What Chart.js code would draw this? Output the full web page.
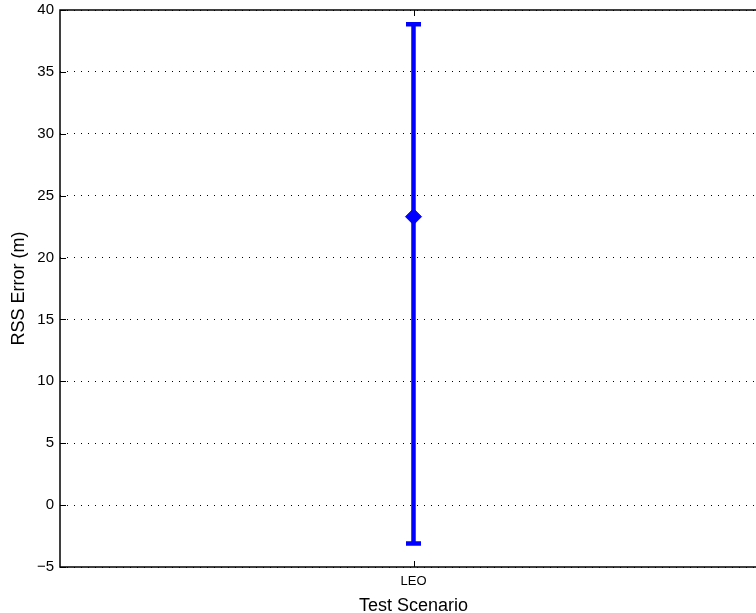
<!DOCTYPE html>
<html>
<head>
<meta charset="utf-8">
<script src="https://cdn.jsdelivr.net/npm/chart.js@4"></script>
<style>
  html, body { margin: 0; padding: 0; background: #fff; overflow: hidden; }
  .chart { position: relative; width: 776px; height: 613px; }
</style>
</head>
<body>
<div class="chart"><canvas id="myChart"></canvas></div>
<script>
// data
const categories = ["LEO"];
const meanValues = [23.3];
const lowerValues = [-3.1];
const upperValues = [38.85];
const yTickValues = [-5, 0, 5, 10, 15, 20, 25, 30, 35, 40];

const blue = "#0000ff";
const fontFamily = "'Liberation Sans', Arial, Helvetica, sans-serif";

// error bars + axes box with inward ticks (matlab look)
const errorBarPlugin = {
  id: "errorBars",
  afterDatasetsDraw(chart) {
    const ctx = chart.ctx;
    const x = chart.scales.x;
    const y = chart.scales.y;
    ctx.save();
    ctx.strokeStyle = blue;
    ctx.lineWidth = 4.5;
    categories.forEach((c, i) => {
      const px = x.getPixelForValue(i + 1);
      const top = y.getPixelForValue(upperValues[i]);
      const bot = y.getPixelForValue(lowerValues[i]);
      ctx.beginPath();
      ctx.moveTo(px, top);
      ctx.lineTo(px, bot);
      ctx.moveTo(px - 7.5, top);
      ctx.lineTo(px + 7.5, top);
      ctx.moveTo(px - 7.5, bot);
      ctx.lineTo(px + 7.5, bot);
      ctx.stroke();
    });
    ctx.restore();
  },
  afterDraw(chart) {
    const ctx = chart.ctx;
    const a = chart.chartArea;
    const x = chart.scales.x;
    const y = chart.scales.y;
    ctx.save();
    ctx.strokeStyle = "#000";
    ctx.lineWidth = 1;
    ctx.beginPath();
    // ticks
    yTickValues.forEach(v => {
      const py = Math.round(y.getPixelForValue(v)) + 0.5;
      ctx.moveTo(a.left, py);
      ctx.lineTo(a.left + 6, py);
      ctx.moveTo(a.right, py);
      ctx.lineTo(a.right - 6, py);
    });
    categories.forEach((c, i) => {
      const px = Math.round(x.getPixelForValue(i + 1)) + 0.5;
      ctx.moveTo(px, a.bottom);
      ctx.lineTo(px, a.bottom - 6);
      ctx.moveTo(px, a.top);
      ctx.lineTo(px, a.top + 6);
    });
    ctx.stroke();
    ctx.restore();
    // box
    ctx.save();
    ctx.strokeStyle = "#000";
    ctx.lineWidth = 1.5;
    ctx.strokeRect(a.left, a.top, a.right - a.left, a.bottom - a.top);
    ctx.restore();
  }
};

const ctx = document.getElementById("myChart").getContext("2d");

new Chart(ctx, {
  type: "scatter",
  data: {
    datasets: [{
      label: "RSS Error",
      data: meanValues.map((v, i) => ({ x: i + 1, y: v })),
      pointStyle: "rectRot",
      pointRadius: 8,
      pointHoverRadius: 8,
      backgroundColor: blue,
      borderColor: blue,
      borderWidth: 1
    }]
  },
  options: {
    responsive: true,
    maintainAspectRatio: false,
    animation: false,
    layout: {
      padding: { top: 10, right: 4, left: 0, bottom: 0 }
    },
    plugins: {
      legend: { display: false },
      tooltip: { enabled: false }
    },
    scales: {
      x: {
        type: "linear",
        min: 0,
        max: categories.length + 1,
        afterBuildTicks: (s) => {
          s.ticks = categories.map((c, i) => ({ value: i + 1 }));
        },
        afterFit: (s) => { s.height = 46; },
        grid: { display: false, drawTicks: false },
        border: { display: false },
        ticks: {
          padding: 7,
          color: "#000",
          font: { family: fontFamily, size: 13 },
          callback: (v) => categories[v - 1]
        },
        title: {
          display: true,
          text: "Test Scenario",
          color: "#000",
          font: { family: fontFamily, size: 18, lineHeight: 0.8 },
          padding: { top: 5, bottom: 0 }
        }
      },
      y: {
        min: -5,
        max: 40,
        afterBuildTicks: (s) => {
          s.ticks = yTickValues.map(v => ({ value: v }));
        },
        afterFit: (s) => {
          s.width = 60;
          s.paddingTop = 0;
          s.paddingBottom = 0;
        },
        grid: {
          drawTicks: false,
          color: "#000",
          lineWidth: 1
        },
        border: { display: false, dash: [1, 6] },
        ticks: {
          padding: 6,
          color: "#000",
          font: { family: fontFamily, size: 15, lineHeight: 1 },
          callback: (v) => v < 0 ? "\u2212" + Math.abs(v) : String(v)
        },
        title: {
          display: true,
          text: "RSS Error (m)",
          color: "#000",
          font: { family: fontFamily, size: 18, lineHeight: 0.8 },
          padding: { top: 12, bottom: 0 }
        }
      }
    }
  },
  plugins: [errorBarPlugin]
});
</script>
</body>
</html>
